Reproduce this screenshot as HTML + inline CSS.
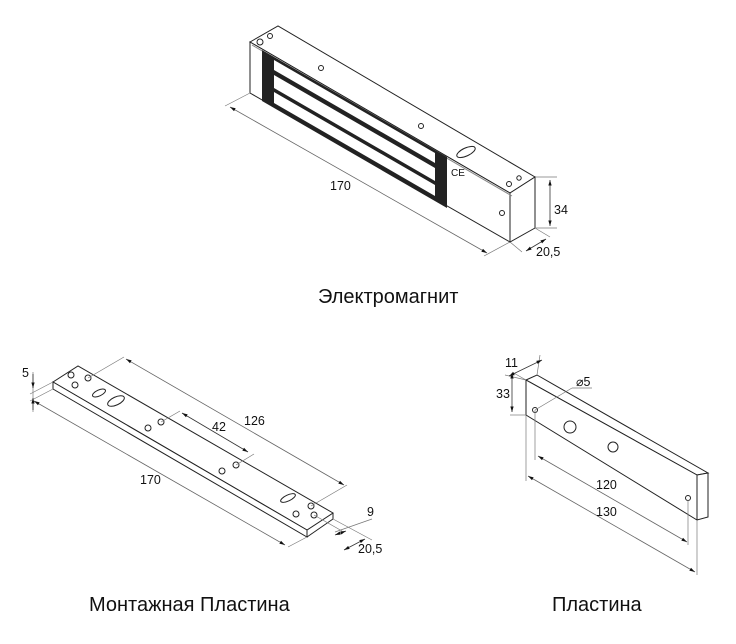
<!DOCTYPE html>
<html><head><meta charset="utf-8"><style>
html,body{margin:0;padding:0;background:#fff;}
svg{display:block;}
text{font-family:"Liberation Sans",Arial,sans-serif;fill:#111;}
</style></head><body>
<svg width="736" height="644" viewBox="0 0 736 644" xmlns="http://www.w3.org/2000/svg">
<defs>
<marker id="ar" viewBox="0 0 10 10" refX="10" refY="5" markerWidth="7" markerHeight="7" orient="auto-start-reverse"><path d="M0,2 L10,5 L0,8 z" fill="#111"/></marker>
</defs>
<g fill="none" stroke="#222" stroke-width="1">
<!-- Magnet -->
<polygon points="250,42 278,26 535,177 510,193" fill="#fff"/>
<polygon points="250,42 510,193 510,242 250,93" fill="#fff"/>
<polygon points="510,193 535,177 535,228 510,242" fill="#fff"/>
<line x1="252" y1="45" x2="512" y2="196" stroke="#888"/>
<polygon points="262,50 447,157 447,208 262,101" fill="#222" stroke="none"/>
<polygon points="274,60 435,153 435,163 274,70" fill="#fff" stroke="none"/>
<polygon points="274,75 435,168 435,181 274,88" fill="#fff" stroke="none"/>
<polygon points="274,92 435,185 435,196 274,103" fill="#fff" stroke="none"/>
<circle cx="260" cy="42" r="3"/><circle cx="270" cy="36" r="2.5"/>
<circle cx="321" cy="68" r="2.5"/><circle cx="421" cy="126" r="2.5"/>
<circle cx="509" cy="184" r="2.5"/><circle cx="519" cy="178" r="2.2"/>
<circle cx="502" cy="213" r="2.5"/>
<ellipse cx="466" cy="152" rx="10" ry="4" transform="rotate(-25 466 152)"/>
<!-- magnet dims -->
<g stroke="#777" stroke-width="0.7">
<line x1="250" y1="93" x2="225" y2="106"/><line x1="510" y1="242" x2="484" y2="256"/>
<line x1="535" y1="177" x2="557" y2="177"/><line x1="535" y1="228" x2="557" y2="228"/>
<line x1="510" y1="242" x2="522" y2="252"/><line x1="535" y1="228" x2="550" y2="237"/>
</g>
<line x1="230" y1="107" x2="487" y2="253" stroke="#666" stroke-width="0.8" marker-start="url(#ar)" marker-end="url(#ar)"/>
<line x1="550" y1="180" x2="550" y2="226" stroke="#333" stroke-width="0.8" marker-start="url(#ar)" marker-end="url(#ar)"/>
<line x1="526" y1="251" x2="546" y2="239" stroke="#333" stroke-width="0.8" marker-start="url(#ar)" marker-end="url(#ar)"/>

<!-- Mounting plate -->
<polygon points="53,382 78,366 333,513 307,530" fill="#fff"/>
<polygon points="53,382 307,530 307,537 53,389" fill="#fff"/>
<line x1="333" y1="513" x2="333" y2="519"/><line x1="307" y1="537" x2="333" y2="519"/>
<circle cx="71" cy="375" r="3"/><circle cx="88" cy="378" r="3"/><circle cx="75" cy="385" r="3"/>
<ellipse cx="99" cy="393" rx="7" ry="3" transform="rotate(-25 99 393)"/>
<ellipse cx="116" cy="401" rx="9" ry="4" transform="rotate(-25 116 401)"/>
<circle cx="161" cy="422" r="3"/><circle cx="148" cy="428" r="3"/>
<circle cx="236" cy="465" r="3"/><circle cx="222" cy="471" r="3"/>
<ellipse cx="288" cy="498" rx="8" ry="3" transform="rotate(-25 288 498)"/>
<circle cx="311" cy="506" r="3"/><circle cx="296" cy="514" r="3"/><circle cx="314" cy="515" r="3"/>
<g stroke="#777" stroke-width="0.7">
<line x1="88" y1="378" x2="124" y2="357"/><line x1="311" y1="506" x2="347" y2="485"/>
<line x1="161" y1="422" x2="180" y2="411"/><line x1="236" y1="465" x2="254" y2="454"/>
<line x1="53" y1="382" x2="30" y2="394"/><line x1="53" y1="389" x2="30" y2="401"/>
<line x1="307" y1="537" x2="288" y2="547"/><line x1="333" y1="519" x2="372" y2="540"/>
<line x1="314" y1="515" x2="342" y2="531"/><line x1="335" y1="532" x2="372" y2="519"/>
<line x1="33" y1="372" x2="33" y2="412"/>
</g>
<line x1="126" y1="359" x2="344" y2="485" stroke="#666" stroke-width="0.8" marker-start="url(#ar)" marker-end="url(#ar)"/>
<line x1="182" y1="413" x2="248" y2="452" stroke="#333" stroke-width="0.8" marker-start="url(#ar)" marker-end="url(#ar)"/>
<line x1="34" y1="401" x2="285" y2="545" stroke="#666" stroke-width="0.8" marker-start="url(#ar)" marker-end="url(#ar)"/>
<line x1="33" y1="374" x2="33" y2="388" stroke="#333" stroke-width="0.8" marker-end="url(#ar)"/>
<line x1="33" y1="410" x2="33" y2="398" stroke="#333" stroke-width="0.8" marker-end="url(#ar)"/>
<line x1="335" y1="535" x2="346" y2="531" stroke="#333" stroke-width="0.8" marker-start="url(#ar)" marker-end="url(#ar)"/>
<line x1="344" y1="550" x2="365" y2="539" stroke="#333" stroke-width="0.8" marker-start="url(#ar)" marker-end="url(#ar)"/>

<!-- Plate -->
<polygon points="526,380 537,375 708,473 697,475" fill="#fff"/>
<polygon points="526,380 697,475 697,520 526,415" fill="#fff"/>
<polygon points="697,475 708,473 708,517 697,520" fill="#fff"/>
<circle cx="535" cy="410" r="2.5"/><circle cx="570" cy="427" r="6"/>
<circle cx="613" cy="447" r="5"/><circle cx="688" cy="498" r="2.5"/>
<g stroke="#777" stroke-width="0.7">
<line x1="535" y1="410" x2="535" y2="460"/><line x1="688" y1="500" x2="688" y2="545"/>
<line x1="526" y1="415" x2="526" y2="481"/><line x1="697" y1="520" x2="697" y2="575"/>
<line x1="526" y1="380" x2="505" y2="375"/><line x1="526" y1="415" x2="510" y2="415"/>
<line x1="537" y1="375" x2="540" y2="355"/><line x1="526" y1="380" x2="512" y2="372"/>
<line x1="535" y1="410" x2="572" y2="388"/><line x1="572" y1="388" x2="592" y2="388"/>
</g>
<line x1="538" y1="456" x2="687" y2="542" stroke="#666" stroke-width="0.8" marker-start="url(#ar)" marker-end="url(#ar)"/>
<line x1="528" y1="476" x2="695" y2="572" stroke="#666" stroke-width="0.8" marker-start="url(#ar)" marker-end="url(#ar)"/>
<line x1="512" y1="373" x2="512" y2="412" stroke="#333" stroke-width="0.8" marker-start="url(#ar)" marker-end="url(#ar)"/>
<line x1="509" y1="376" x2="542" y2="360" stroke="#333" stroke-width="0.8" marker-start="url(#ar)" marker-end="url(#ar)"/>
</g>
<g font-size="12.5">
<text x="330" y="190">170</text>
<text x="554" y="214">34</text>
<text x="536" y="256">20,5</text>
<text x="451" y="176" font-size="10">CE</text>
<text x="22" y="377">5</text>
<text x="212" y="431">42</text>
<text x="244" y="425">126</text>
<text x="140" y="484">170</text>
<text x="367" y="516">9</text>
<text x="358" y="553">20,5</text>
<text x="505" y="367">11</text>
<text x="496" y="398">33</text>
<text x="576" y="386">⌀5</text>
<text x="596" y="489">120</text>
<text x="596" y="516">130</text>
</g>
<g font-size="20">
<text x="318" y="303">Электромагнит</text>
<text x="89" y="611">Монтажная Пластина</text>
<text x="552" y="611">Пластина</text>
</g>
</svg>
</body></html>
